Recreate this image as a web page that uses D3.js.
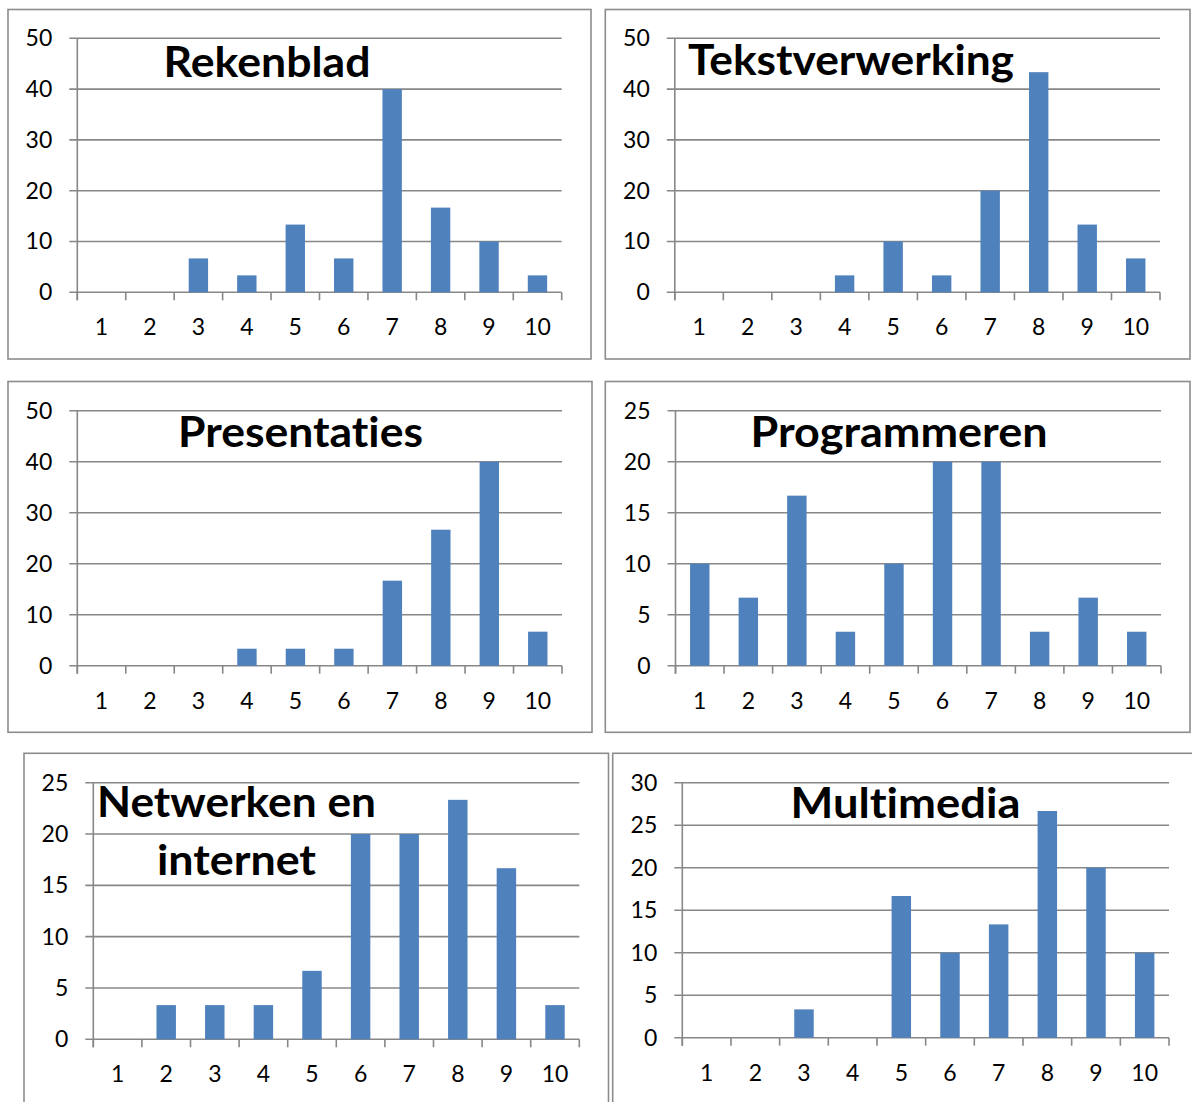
<!DOCTYPE html>
<html>
<head>
<meta charset="utf-8">
<script src="https://cdn.jsdelivr.net/npm/d3@7"></script>
<style>
  html, body { margin: 0; padding: 0; background: #ffffff; }
  svg { display: block; }
  text { font-family: Lato, "Open Sans", sans-serif; fill: #000; font-variant-ligatures: none; font-feature-settings: "liga" 0, "clig" 0; }
</style>
</head>
<body>
<svg id="chart" width="1192" height="1102"></svg>
<script>
// Scores 1..10 and the share of students (%) per score, one series per subject
const categories = ["1", "2", "3", "4", "5", "6", "7", "8", "9", "10"];

const rekenblad       = [0, 0, 6.67, 3.33, 13.33, 6.67, 40, 16.67, 10, 3.33];
const tekstverwerking = [0, 0, 0, 3.33, 10, 3.33, 20, 43.33, 13.33, 6.67];
const presentaties    = [0, 0, 0, 3.33, 3.33, 3.33, 16.67, 26.67, 40, 6.67];
const programmeren    = [10, 6.67, 16.67, 3.33, 10, 20, 20, 3.33, 6.67, 3.33];
const netwerken       = [0, 3.33, 3.33, 3.33, 6.67, 20, 20, 23.33, 16.67, 3.33];
const multimedia      = [0, 0, 3.33, 0, 16.67, 10, 13.33, 26.67, 20, 10];

const ticks50 = [0, 10, 20, 30, 40, 50];
const ticks25 = [0, 5, 10, 15, 20, 25];
const ticks30 = [0, 5, 10, 15, 20, 25, 30];

const titleRekenblad    = ["Rekenblad"];
const titleTekst        = ["Tekstverwerking"];
const titlePresentaties = ["Presentaties"];
const titleProgrammeren = ["Programmeren"];
const titleNetwerken    = ["Netwerken en", "internet"];
const titleMultimedia   = ["Multimedia"];

// Layout of the six small charts
const panels = [
  { values: rekenblad, ticks: ticks50, title: titleRekenblad,
    frame: [8, 9.5, 591, 359], plot: [77.3, 38.3, 561.7, 292.3],
    titleX: 267, titleY: [76.5], titleW: [207] },
  { values: tekstverwerking, ticks: ticks50, title: titleTekst,
    frame: [605.3, 9.5, 1190, 359], plot: [674.8, 38.3, 1160, 292.3],
    titleX: 851, titleY: [75], titleW: [326] },
  { values: presentaties, ticks: ticks50, title: titlePresentaties,
    frame: [8, 381.5, 592, 732.3], plot: [77.3, 410.7, 562, 665.7],
    titleX: 300.5, titleY: [446.5], titleW: [245] },
  { values: programmeren, ticks: ticks25, title: titleProgrammeren,
    frame: [605.3, 381.5, 1190, 732.3], plot: [675.5, 410.7, 1161, 665.7],
    titleX: 899, titleY: [446.5], titleW: [297] },
  { values: netwerken, ticks: ticks25, title: titleNetwerken,
    frame: [24, 753.3, 608.5, 1110], plot: [93.3, 782.7, 579.3, 1039.3],
    titleX: 236.5, titleY: [817, 875], titleW: [279, 159] },
  { values: multimedia, ticks: ticks30, title: titleMultimedia,
    frame: [612.7, 753.3, 1196, 1110], plot: [682.3, 782.7, 1169, 1037.7],
    titleX: 905.5, titleY: [818], titleW: [230] }
];

const GRID = "#878787";
const FRAME = "#8c8c8c";
const BAR = "#4f81bd";
const LABEL_SIZE = 23;

const svg = d3.select("#chart");

panels.forEach(p => {
  const [fx0, fy0, fx1, fy1] = p.frame;
  const [x0, yTop, x1, y0] = p.plot;
  const g = svg.append("g");

  g.append("rect")
    .attr("x", fx0).attr("y", fy0)
    .attr("width", fx1 - fx0).attr("height", fy1 - fy0)
    .attr("fill", "#fff").attr("stroke", FRAME).attr("stroke-width", 1.6);

  const x = d3.scaleBand()
    .domain(categories)
    .range([x0, x1])
    .paddingInner(0.6)
    .paddingOuter(0.3);

  const y = d3.scaleLinear()
    .domain([0, d3.max(p.ticks)])
    .range([y0, yTop]);

  // horizontal gridlines with their short tick on the left
  g.append("g").selectAll("line.grid")
    .data(p.ticks)
    .join("line")
    .attr("x1", x0 - 8).attr("x2", x1)
    .attr("y1", d => y(d)).attr("y2", d => y(d))
    .attr("stroke", GRID).attr("stroke-width", 1.6);

  // y axis labels
  const yAxis = d3.axisLeft(y).tickValues(p.ticks).tickSize(0).tickPadding(25);
  const ya = g.append("g").attr("transform", `translate(${x0},0)`).call(yAxis);
  ya.select(".domain").remove();
  ya.selectAll("text").style("font-size", LABEL_SIZE + "px").style("font-family", "Lato, sans-serif").attr("fill", "#000");

  // vertical axis line, running below the baseline into the first tick
  g.append("line")
    .attr("x1", x0).attr("x2", x0)
    .attr("y1", yTop).attr("y2", y0 + 8)
    .attr("stroke", GRID).attr("stroke-width", 1.6);

  // category boundary ticks on the x axis
  const step = x.step();
  const bounds = d3.range(categories.length + 1).map(i => x0 + i * step);
  g.append("g").selectAll("line")
    .data(bounds)
    .join("line")
    .attr("x1", d => d).attr("x2", d => d)
    .attr("y1", y0).attr("y2", y0 + 8)
    .attr("stroke", GRID).attr("stroke-width", 1.6);

  // bars
  g.append("g").selectAll("rect")
    .data(p.values.map((v, i) => ({ c: categories[i], v })))
    .join("rect")
    .attr("x", d => x(d.c))
    .attr("width", x.bandwidth())
    .attr("y", d => y(d.v))
    .attr("height", d => y0 - y(d.v))
    .attr("fill", BAR);

  // x axis labels
  const xAxis = d3.axisBottom(x).tickSize(0).tickPadding(43 - 0.71 * LABEL_SIZE);
  const xa = g.append("g").attr("transform", `translate(0,${y0})`).call(xAxis);
  xa.select(".domain").remove();
  xa.selectAll("text").style("font-size", LABEL_SIZE + "px").style("font-family", "Lato, sans-serif").attr("fill", "#000");

  // title inside the plot area
  p.title.forEach((line, i) => {
    g.append("text")
      .attr("x", p.titleX)
      .attr("y", p.titleY[i])
      .attr("text-anchor", "middle")
      .attr("textLength", p.titleW[i])
      .attr("lengthAdjust", "spacingAndGlyphs")
      .style("font-size", "42px")
      .style("font-weight", "bold")
      .text(line);
  });
});
</script>
</body>
</html>
